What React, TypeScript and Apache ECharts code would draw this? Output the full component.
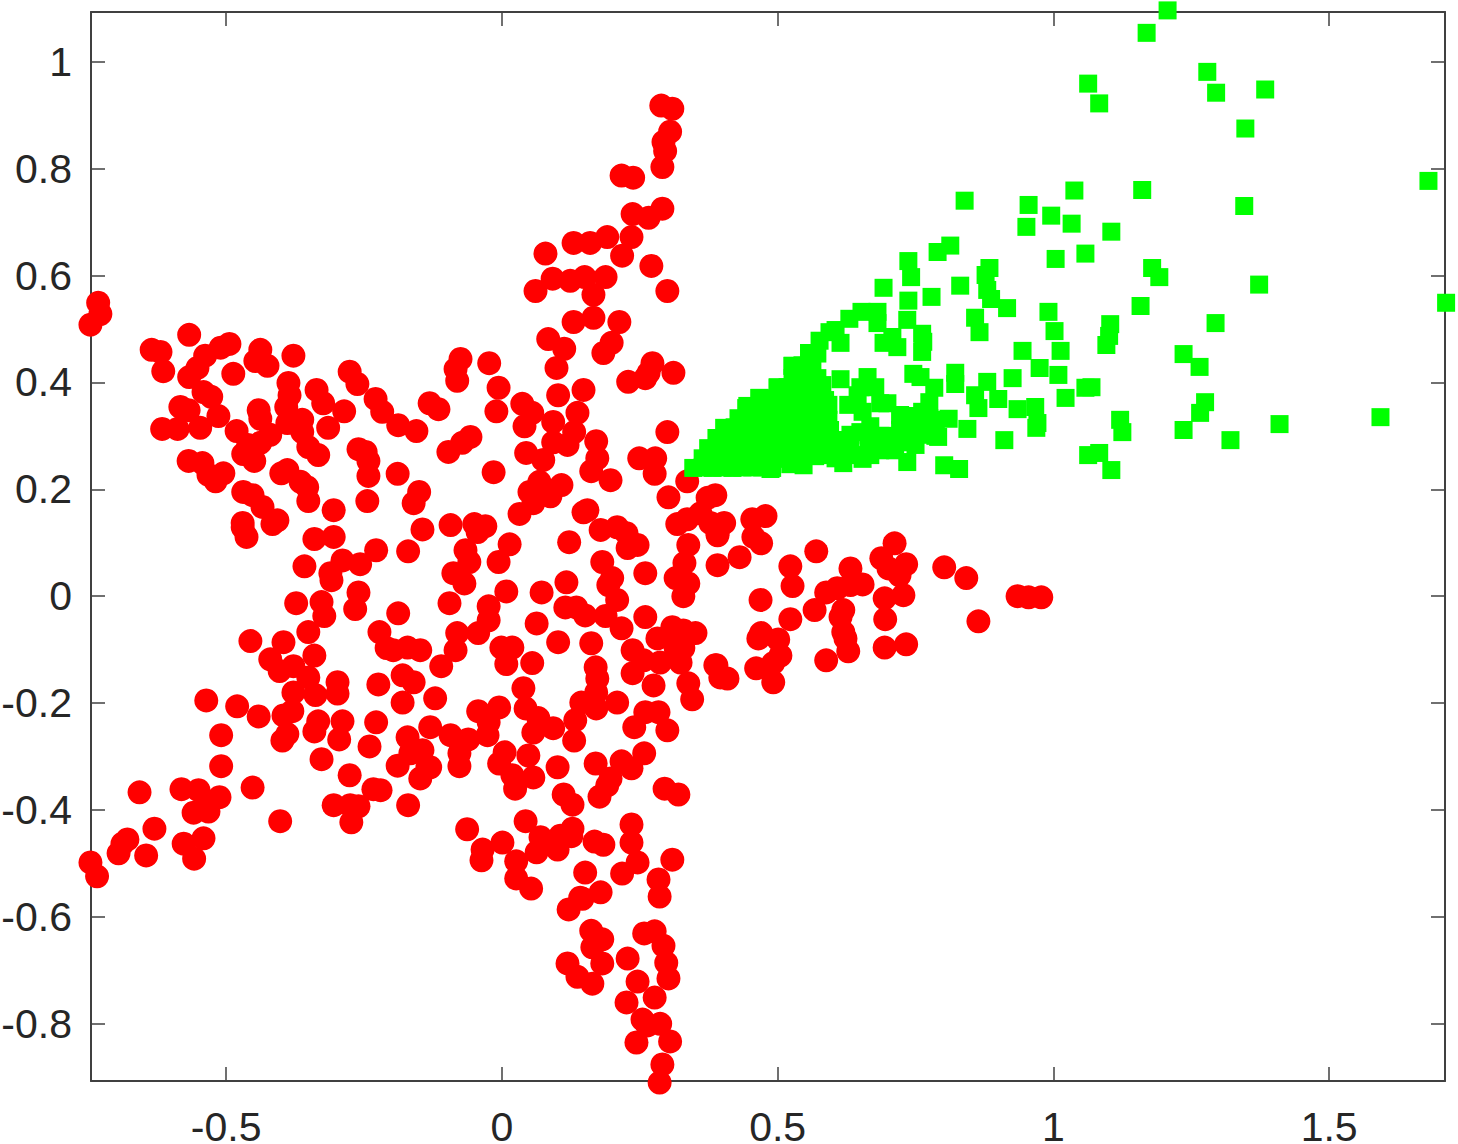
import React, { useEffect, useRef } from "react";
import * as echarts from "echarts";

const xTicks = [-0.5, 0, 0.5, 1, 1.5];
const yTicks = [-0.8, -0.6, -0.4, -0.2, 0, 0.2, 0.4, 0.6, 0.8, 1];

const redUpperLeft = [
[-.732,.549],[-.728,.528],[-.746,.508],[-.567,.489],[-.635,.461],[-.619,.457],[-.614,.421],[-.538,.450],[-.552,.427],[-.567,.410],[-.510,.465],[-.494,.472],[-.438,.461],[-.447,.440],[-.425,.431],[-.378,.450],[-.487,.416],[-.541,.382],[-.527,.373],[-.583,.354],[-.568,.348],[-.514,.337],[-.616,.313],[-.588,.313],[-.547,.315],[-.481,.309],[-.441,.348],[-.438,.332],[-.387,.399],[-.385,.376],[-.391,.354],[-.389,.324],[-.362,.330],[-.362,.307],[-.336,.386],[-.324,.361],[-.286,.346],[-.315,.315],[-.276,.420],[-.262,.397],[-.229,.369],[-.217,.345],[-.188,.320],[-.420,.302],[-.438,.287],[-.460,.283],[-.469,.266],[-.449,.253],[-.351,.279],[-.333,.264],[-.260,.275],[-.247,.270],[-.242,.253],[-.242,.225],[-.189,.229],[-.568,.253],[-.543,.249],[-.519,.215],[-.505,.230],[-.532,.227],[-.400,.230],[-.389,.236],[-.365,.214],[-.353,.204],[-.351,.178],[-.244,.178],[-.305,.161],[-.469,.195],[-.452,.189],[-.434,.167],[-.416,.135],[-.407,.142],[-.470,.137],[-.470,.129],[-.463,.111],[-.340,.107],[-.305,.111],[-.228,.086],[-.289,.067],[-.257,.060],[-.358,.056],[-.311,.043],[-.309,.030],[-.260,.007],
];
const redLowerLeft = [
[-.373,-.013],[-.327,-.011],[-.322,-.037],[-.266,-.024],[-.188,-.032],[-.351,-.067],[-.456,-.084],[-.396,-.086],[-.420,-.118],[-.403,-.140],[-.378,-.131],[-.340,-.111],[-.351,-.152],[-.378,-.180],[-.338,-.185],[-.298,-.161],[-.298,-.182],[-.222,-.067],[-.209,-.097],[-.197,-.101],[-.224,-.165],[-.180,-.148],[-.180,-.199],[-.536,-.195],[-.480,-.206],[-.441,-.225],[-.396,-.223],[-.380,-.215],[-.389,-.258],[-.398,-.270],[-.333,-.234],[-.340,-.253],[-.289,-.234],[-.295,-.268],[-.228,-.236],[-.240,-.281],[-.509,-.260],[-.509,-.318],[-.327,-.305],[-.189,-.317],[-.276,-.335],[-.452,-.358],[-.233,-.361],[-.220,-.363],[-.305,-.391],[-.275,-.391],[-.260,-.393],[-.273,-.423],[-.402,-.421],[-.657,-.367],[-.581,-.361],[-.550,-.363],[-.512,-.376],[-.534,-.388],[-.559,-.405],[-.532,-.403],[-.630,-.435],[-.679,-.455],[-.688,-.463],[-.695,-.481],[-.645,-.485],[-.577,-.463],[-.541,-.453],[-.558,-.491],[-.746,-.498],[-.734,-.524],
];
const redTop = [
[.289,.918],[.309,.912],[.305,.869],[.293,.850],[.296,.833],[.291,.803],[.217,.787],[.238,.783],[.291,.725],[.266,.708],[.237,.715],[.235,.672],[.218,.637],[.271,.618],[.300,.571],[.191,.672],[.160,.661],[.130,.661],[.079,.641],[.092,.594],[.124,.590],[.150,.597],[.188,.597],[.061,.571],[.166,.564],[.130,.513],[.166,.521],[.213,.513],[.084,.481],[.113,.463],[.099,.427],[.199,.474],[.184,.455],[-.075,.444],[-.084,.425],[-.081,.403],[-.023,.436],[-.006,.390],[.273,.436],[.266,.418],[.311,.418],[.229,.401],[.260,.408],[.102,.376],[.148,.386],
];
const redCentre = [
[-.131,.361],[-.115,.350],[-.155,.309],[-.097,.270],[-.072,.287],[-.057,.298],[-.015,.232],[-.010,.346],[.037,.360],[.055,.343],[.041,.318],[.137,.343],[.093,.326],[.131,.307],[.093,.288],[.119,.283],[.171,.290],[.044,.268],[.075,.255],[.173,.258],[.162,.234],[.197,.217],[.068,.214],[.108,.208],[.050,.195],[.088,.187],[.057,.174],[.032,.154],[.300,.307],[.249,.258],[.278,.258],[.277,.229],[.336,.215],[.302,.185],[.155,.161],[.148,.157],[.179,.124],[.209,.129],[.226,.118],[.246,.096],[.228,.090],[.182,.064],[.200,.034],[.193,.021],[.260,.043],[.209,-.007],[.260,-.039],[.188,-.037],[.217,-.060],[.122,.101],[.117,.026],[.072,.007],[.115,-.021],[.135,-.021],[.151,-.036],[.063,-.051],[.102,-.086],[.162,-.088],[.318,.135],[.336,.144],[.360,.155],[.373,.184],[.387,.189],[.338,.096],[.331,.062],[.315,.034],[.338,.024],[.329,0],[.391,.118],[.391,.058],[.378,.137],[.237,-.101],[.282,-.079],[.309,-.058],[.329,-.064],[.351,-.069],[.315,-.097],[.329,-.097],[-.144,.125],[-.093,.133],[-.050,.135],[-.030,.131],[-.044,.120],[-.170,.084],[-.150,.195],[-.160,.174],[.014,.097],[-.006,.064],[-.066,.086],[-.059,.064],[-.088,.043],[-.068,.024],[.008,.009],[-.095,-.013],[-.024,-.019],[-.024,-.045],[-.043,-.069],[-.081,-.069],[-.001,-.096],[.019,-.096],[-.084,-.101],[-.171,-.096],[-.148,-.101],
];
const redLower = [
[-.110,-.131],[-.160,-.161],[-.121,-.191],[.008,-.127],[.055,-.125],[.170,-.133],[.173,-.154],[.039,-.172],[.043,-.210],[-.043,-.215],[-.005,-.208],[-.024,-.236],[.066,-.228],[.057,-.255],[.093,-.247],[-.130,-.245],[-.093,-.260],[-.061,-.268],[-.026,-.260],[-.077,-.294],[-.077,-.318],[.133,-.232],[.131,-.270],[.144,-.199],[.171,-.180],[.171,-.210],[.209,-.199],[.237,-.144],[.275,-.167],[.257,-.120],[.287,-.124],[.324,-.124],[.338,-.163],[.345,-.193],[.387,-.129],[.396,-.152],[.260,-.217],[.284,-.217],[.240,-.245],[.300,-.251],[-.171,-.264],[-.144,-.288],[-.166,-.294],[-.135,-.320],[-.148,-.341],[-.130,-.320],[-.170,-.391],[.005,-.292],[-.005,-.313],[.048,-.298],[.024,-.360],[.057,-.339],[.019,-.335],[.101,-.320],[.258,-.294],[.217,-.309],[.235,-.322],[.170,-.313],[.191,-.354],[.177,-.375],[.197,-.341],[.112,-.371],[.128,-.390],[.295,-.360],[.320,-.371],[-.063,-.436],[-.035,-.474],[.001,-.461],[-.037,-.494],[.043,-.421],[.070,-.451],[.128,-.435],[.106,-.448],[.126,-.449],[.063,-.479],[.101,-.474],[.026,-.496],[.026,-.528],[.053,-.547],[.168,-.459],[.184,-.465],[.151,-.517],[.235,-.427],[.235,-.461],[.246,-.498],[.218,-.519],[.309,-.493],[.284,-.530],[.179,-.554],[.142,-.564],
];
const redBottom = [
[.121,-.586],[.146,-.566],[.286,-.562],[.162,-.626],[.182,-.642],[.164,-.657],[.182,-.687],[.119,-.687],[.137,-.712],[.164,-.725],[.228,-.678],[.258,-.631],[.277,-.627],[.293,-.654],[.298,-.686],[.302,-.715],[.277,-.751],[.246,-.721],[.226,-.760],[.255,-.792],[.287,-.800],[.264,-.803],[.244,-.835],[.305,-.833],[.291,-.876],[.286,-.910],
];
const redRight = [
[.431,.073],[.391,.114],[.403,.137],[.454,.144],[.478,.150],[.456,.111],[.470,.099],[.523,.056],[.527,.019],[.570,.084],[.469,-.007],[.523,-.043],[.567,-.026],[.588,.007],[.608,.015],[.632,.052],[.632,.021],[.654,.022],[.619,-.026],[.614,-.039],[.619,-.067],[.623,-.079],[.628,-.103],[.588,-.120],[.470,-.069],[.465,-.079],[.501,-.081],[.505,-.111],[.461,-.135],[.492,-.125],[.492,-.161],[.389,-.129],[.409,-.154],[.712,.099],[.688,.071],[.733,.060],[.701,.052],[.721,.039],[.728,.002],[.694,-.004],[.695,-.043],[.694,-.096],[.733,-.090],[.802,.054],[.842,.034],[.864,-.047],[.935,0],[.955,-.002],[.978,-.002],
];

const greenOuter = [
[1.207,1.096],[1.169,1.054],[1.279,.981],[1.295,.942],[1.384,.948],[1.063,.959],[1.083,.922],[1.348,.875],[1.680,.777],[1.712,.549],[1.593,.335],[.839,.740],[.955,.732],[1.038,.759],[1.161,.760],[1.346,.730],[.996,.712],[1.033,.697],[.951,.691],[1.105,.682],[.813,.656],[.790,.644],[1.004,.631],[1.058,.641],[.737,.627],[.742,.597],[.884,.614],[.877,.601],[.880,.573],[.887,.556],[.916,.539],[1.179,.614],[1.192,.597],[1.373,.583],[.831,.581],[.779,.560],[.737,.553],[.692,.577],[.991,.532],[1.002,.496],[1.158,.543],[1.103,.509],[1.101,.487],[1.096,.470],[1.294,.511],[.858,.521],[.866,.494],[.735,.517],[.762,.491],[.764,.476],[.762,.457],[.944,.459],[1.013,.459],[.975,.427],[1.009,.414],[1.236,.453],[1.265,.429],[.746,.416],[.759,.410],[.822,.418],[.822,.397],[.784,.390],[.880,.401],[.926,.408],[1.069,.391],[1.058,.390],[1.275,.363],[1.266,.343],[1.022,.371],[.858,.376],[.900,.369],[.864,.352],[.935,.350],[.967,.354],[.971,.324],[.969,.315],[1.121,.330],[1.125,.307],[1.236,.311],[1.321,.292],[1.410,.322],[.810,.332],[.844,.313],[.911,.292],[.775,.363],[1.063,.264],[1.083,.268],[1.105,.236],[.735,.251],[.802,.245],[.829,.238],
];
const greenBand = [
[.445,.356],[.467,.371],[.500,.391],[.527,.431],[.557,.455],[.576,.478],[.594,.494],[.605,.498],[.630,.519],[.652,.532],[.681,.532],[.681,.511],[.614,.474],[.692,.474],[.717,.466],[.708,.485],[.614,.406],[.663,.410],[.677,.391],[.650,.391],[.628,.358],[.645,.376],[.686,.361],[.699,.361],[.762,.345],[.619,.249],[.654,.257],[.701,.277],[.487,.238],[.568,.262],[.547,.245],[.595,.311],[.614,.292],[.650,.307],[.668,.318],[.686,.300],[.704,.292],[.722,.311],[.741,.322],[.759,.302],[.777,.320],[.786,.300],[.750,.283],[.722,.288],[.677,.283],[.632,.283],[.595,.283],[.654,.345],[.722,.339],[.768,.339],[.786,.330],[.686,.273],[.590,.264],[.623,.270],[.586,.339],[.586,.367],[.581,.395],[.665,.283],[.736,.333],
[.632,.302],[.668,.292],[.695,.300],[.732,.311],[.750,.320],[.768,.311],[.786,.315],[.791,.298],[.775,.333],[.730,.337],[.743,.337],[.592,.358],[.592,.330],[.605,.292],[.641,.264],[.668,.264],[.713,.273],[.605,.258],[.523,.247],
];
const greenWedge = [
[.347,.240],[.364,.241],[.382,.240],[.400,.241],[.418,.240],[.436,.241],[.454,.241],[.472,.241],[.490,.240],
[.364,.258],[.382,.259],[.400,.257],[.418,.259],[.436,.258],[.454,.257],[.472,.259],[.490,.258],[.509,.257],[.527,.259],[.545,.258],
[.374,.277],[.389,.276],[.407,.278],[.425,.277],[.443,.276],[.461,.278],[.480,.277],[.498,.276],[.516,.278],[.534,.277],[.552,.276],[.570,.278],
[.389,.296],[.407,.295],[.425,.297],[.443,.296],[.461,.295],[.480,.297],[.498,.296],[.516,.295],[.534,.297],[.552,.296],[.570,.295],[.588,.297],
[.403,.315],[.422,.316],[.440,.314],[.458,.315],[.476,.316],[.494,.314],[.512,.315],[.530,.316],[.548,.314],[.567,.315],
[.429,.333],[.447,.334],[.465,.332],[.483,.333],[.501,.334],[.519,.332],[.538,.333],[.556,.334],[.574,.332],
[.443,.352],[.461,.353],[.480,.351],[.498,.352],[.516,.353],[.534,.351],[.552,.352],[.570,.353],
[.467,.371],[.485,.370],[.503,.372],[.521,.371],[.539,.370],[.557,.372],
[.500,.390],[.518,.391],[.536,.389],[.554,.390],[.572,.391],
[.527,.408],[.545,.409],[.563,.407],[.572,.408],
[.527,.431],[.545,.432],[.563,.430],
[.557,.455],[.572,.454],
];

const fontFamily = '"Liberation Sans", Arial, sans-serif';
const axisColor = "#404040";
const textColor = "#262626";
const xMin = -0.745;
const xMax = 1.71;
const yMin = -0.907;
const yMax = 1.093;

const lineStyle = { color: axisColor, width: 2 };
const tickStyle = { color: axisColor, width: 1.5 };

export default function App() {
  const ref = useRef<HTMLDivElement>(null);
  useEffect(() => {
    const chart = echarts.init(ref.current!, undefined, { renderer: "svg" });
    const red = [...redUpperLeft, ...redLowerLeft, ...redTop, ...redCentre, ...redLower, ...redBottom, ...redRight];
    const green = [...greenWedge, ...greenBand, ...greenOuter];
    const xBase = { type: "value", min: xMin, max: xMax, splitLine: { show: false }, axisLine: { show: true, onZero: false, lineStyle } };
    const yBase = { type: "value", min: yMin, max: yMax, splitLine: { show: false }, axisLine: { show: true, onZero: false, lineStyle } };
    chart.setOption({
      animation: false,
      backgroundColor: "#ffffff",
      grid: { left: 91, right: 13, top: 12, bottom: 63, containLabel: false, outerBoundsMode: "none" },
      xAxis: [
        { ...xBase, position: "bottom", axisTick: { show: true, inside: true, length: 14, lineStyle: tickStyle, customValues: xTicks },
          axisLabel: { show: true, customValues: xTicks, color: textColor, fontSize: 41, lineHeight: 32, fontFamily, margin: 30, showMinLabel: true, showMaxLabel: true } },
        { ...xBase, position: "top", axisTick: { show: true, inside: true, length: 14, lineStyle: tickStyle, customValues: xTicks }, axisLabel: { show: false } },
      ],
      yAxis: [
        { ...yBase, position: "left", axisTick: { show: true, inside: true, length: 14, lineStyle: tickStyle, customValues: yTicks },
          axisLabel: { show: true, customValues: yTicks, color: textColor, fontSize: 41, fontFamily, margin: 19 } },
        { ...yBase, position: "right", axisTick: { show: true, inside: true, length: 14, lineStyle: tickStyle, customValues: yTicks }, axisLabel: { show: false } },
      ],
      series: [
        { type: "scatter", data: red, symbol: "circle", symbolSize: 24, clip: false, itemStyle: { color: "#ff0000", opacity: 1 }, silent: true },
        { type: "scatter", data: green, symbol: "rect", symbolSize: 18, clip: false, itemStyle: { color: "#00ff00", opacity: 1 }, silent: true },
      ],
    });
    return () => chart.dispose();
  }, []);
  return <div ref={ref} style={{ position: "fixed", left: 0, top: 0, width: 1458, height: 1144 }} />;
}
